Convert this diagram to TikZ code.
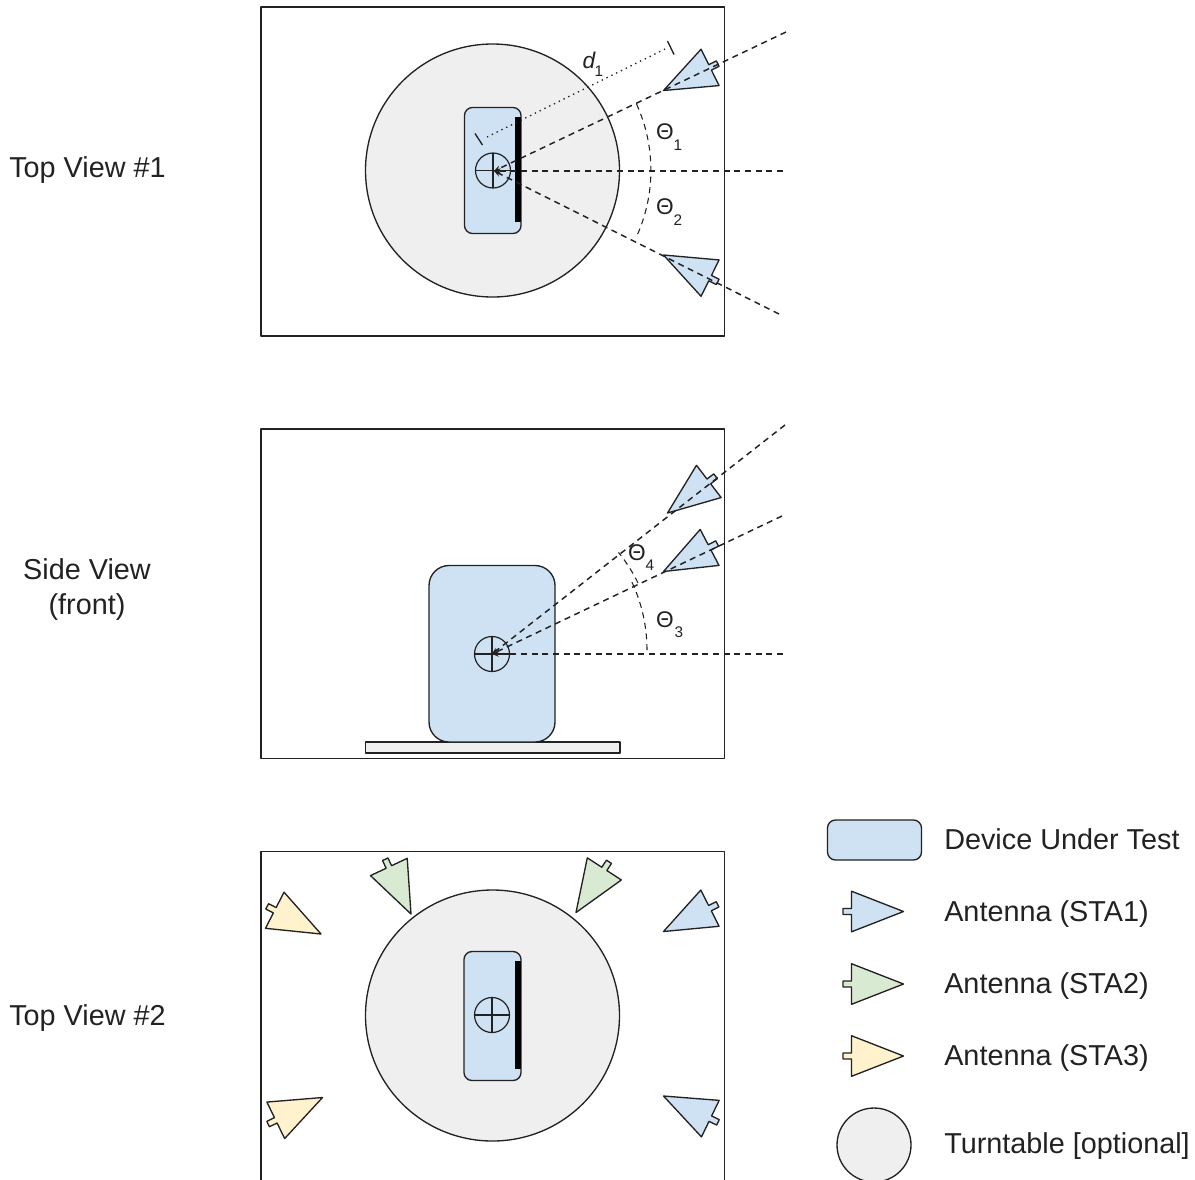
\documentclass[tikz,border=0pt]{standalone}
\usepackage{fontspec}
\setmainfont{Liberation Sans}
\usetikzlibrary{arrows.meta}
\definecolor{dutblue}{HTML}{CFE2F3}
\definecolor{antgreen}{HTML}{D9EAD3}
\definecolor{antyellow}{HTML}{FFF2CC}
\definecolor{tablegrey}{HTML}{EFEFEF}
\definecolor{inkc}{HTML}{222222}
\tikzset{
  x=0.75pt,y=-0.75pt,
  outline/.style={draw=inkc,line width=1pt,line join=round},
  frame/.style={outline,fill=white},
  turntable/.style={outline,fill=tablegrey},
  dut/.style={outline,fill=dutblue,rounded corners=6pt},
  ray/.style={draw=inkc,line width=1.1pt,dash pattern=on 4.5pt off 3.5pt,-{Stealth[length=5pt,width=4pt]}},
  arcdash/.style={draw=inkc,line width=0.8pt,dash pattern=on 4.5pt off 3.5pt},
  dots/.style={draw=inkc,line width=1pt,dash pattern=on 1pt off 3pt},
  tick/.style={draw=inkc,line width=1pt},
  label/.style={font=\fontsize{21.6pt}{26pt}\selectfont,text=inkc,inner sep=0pt},
  sym/.style={font=\fontsize{17pt}{20pt}\selectfont,text=inkc,inner sep=0pt},
  subs/.style={font=\fontsize{11.5pt}{14pt}\selectfont,text=inkc,inner sep=0pt},
  antenna/.pic={
    \path[outline,fill=\pgfkeysvalueof{/tikz/antfill}]
      (0,0) -- (-52,-20.3) -- (-52,-3) -- (-60.5,-3) -- (-60.5,3) -- (-52,3) -- (-52,20.3) -- cycle;
  },
  antfill/.initial=dutblue,
}
\newcommand{\crosshair}[3]{%
  \draw[outline,line width=0.9pt] (#1,#2) circle[radius=#3];
  \draw[outline,line width=0.9pt] (#1-#3,#2) -- (#1+#3,#2) (#1,#2-#3) -- (#1,#2+#3);
}
\begin{document}
\begin{tikzpicture}
\useasboundingbox (0,0) rectangle (1195,1179);
\clip (0,0) rectangle (1195,1179);
\fill[white] (0,0) rectangle (1195,1179);

% ---- Top view 1
\draw[frame] (261,7) rectangle (724.5,336);
\draw[turntable] (492.5,170.5) ellipse[x radius=127,y radius=126.5];
\draw[dut] (464.5,107.5) rectangle (521,233.5);
\crosshair{493}{170.5}{17.5}
\fill[black] (515,117) rectangle (521,222);
\coordinate (c1) at (494,171);
\coordinate (e1a) at (786,32);
\coordinate (e1b) at (783,171);
\coordinate (e1c) at (779,314);
\coordinate (d1s) at (487,137);
\coordinate (d1e) at (667,48);
\pic[rotate=206.4,antfill=dutblue] at (663.5,90.5) {antenna};
\pic[rotate=153.6,antfill=dutblue] at (663.5,255) {antenna};
\draw[ray] (e1a) -- (c1);
\draw[ray] (e1b) -- (c1);
\draw[ray] (e1c) -- (c1);
\draw[arcdash] (636.5,104) arc[start angle=-24.5,end angle=24.5,radius=160,y radius=160];
\draw[dots] (d1s) -- (d1e);
\draw[tick] (475,133.5) -- (482.5,145);
\draw[tick] (667.5,41) -- (674,54.5);
\node[sym] (t1) at (665,132) {Θ};
\node[subs] (t1s) at (678,145) {1};
\node[sym] (t2) at (665,207) {Θ};
\node[subs] (t2s) at (678,220) {2};
\node[sym,font=\fontsize{17pt}{20pt}\selectfont\itshape] (d1) at (589,60) {d};
\node[subs] (d1n) at (599,71) {1};

% ---- Side view
\draw[frame] (261,429) rectangle (724.5,758.5);
\draw[outline,fill=tablegrey] (365.5,742) rectangle (620,753);
\draw[dut,rounded corners=15pt] (429,565.5) rectangle (555,742);
\crosshair{492}{654}{17.5}
\coordinate (c2) at (492,654);
\coordinate (e2a) at (785,425);
\coordinate (e2b) at (782,516);
\coordinate (e2c) at (783,654);
\pic[rotate=217.4,antfill=dutblue] at (667.5,513) {antenna};
\pic[rotate=207.6,antfill=dutblue] at (663.5,571.5) {antenna};
\draw[ray] (e2a) -- (c2);
\draw[ray] (e2b) -- (c2);
\draw[ray] (e2c) -- (c2);
\draw[arcdash] (647,650) arc[start angle=0,end angle=-26,radius=160,y radius=160];
\draw[arcdash] (638,583) arc[start angle=-26,end angle=-39,radius=160,y radius=160];
\node[sym] (t3) at (665,620) {Θ};
\node[subs] (t3s) at (679,632) {3};
\node[sym] (t4) at (637,553) {Θ};
\node[subs] (t4s) at (650,565) {4};

% ---- Top view 2
\draw[frame] (261,851.5) rectangle (724.5,1200);
\draw[turntable] (492.5,1015.5) ellipse[x radius=127,y radius=125.5];
\draw[dut] (464,951.5) rectangle (521,1080.5);
\crosshair{492}{1015}{17.5}
\fill[black] (515,961) rectangle (521,1069);
\pic[rotate=206.7,antfill=dutblue] at (663.5,931.5) {antenna};
\pic[rotate=154.2,antfill=dutblue] at (663.5,1096) {antenna};
\pic[rotate=237,antfill=antgreen] at (576,912.5) {antenna};
\pic[rotate=-64.8,antfill=antgreen] at (411,914) {antenna};
\pic[rotate=-27.2,antfill=antyellow] at (321,934) {antenna};
\pic[rotate=26,antfill=antyellow] at (322.5,1097.5) {antenna};

% ---- Left captions
\node[label,anchor=west] (cap1) at (9,170) {Top View \#1};
\node[label] (cap2a) at (87,569) {Side View};
\node[label] (cap2b) at (87,607) {(front)};
\node[label,anchor=west] (cap3) at (9,1018) {Top View \#2};

% ---- Legend
\draw[dut] (827.5,820) rectangle (921.5,860);
\pic[antfill=dutblue] at (903.5,911.5) {antenna};
\pic[antfill=antgreen] at (903.5,984) {antenna};
\pic[antfill=antyellow] at (903.5,1056) {antenna};
\draw[turntable] (874,1145) circle[radius=37];
\node[label,anchor=west] (l1) at (944,839) {Device Under Test};
\node[label,anchor=west] (l2) at (944,914) {Antenna (STA1)};
\node[label,anchor=west] (l3) at (944,986) {Antenna (STA2)};
\node[label,anchor=west] (l4) at (944,1058) {Antenna (STA3)};
\node[label,anchor=west] (l5) at (944,1146) {Turntable [optional]};
\end{tikzpicture}
\end{document}
